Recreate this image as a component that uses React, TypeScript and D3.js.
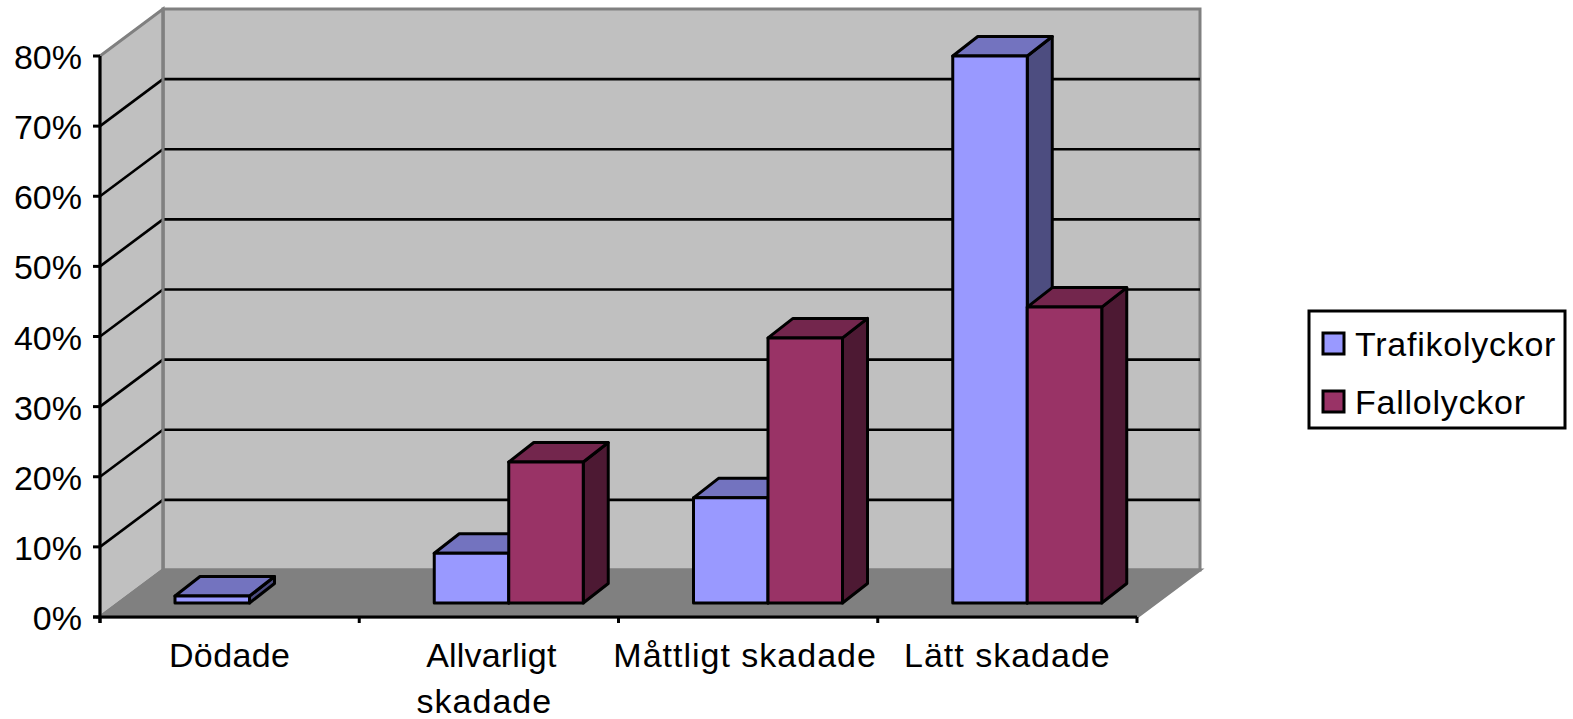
import * as d3 from "d3";

const categories = ["Dödade", "Allvarligt skadade", "Måttligt skadade", "Lätt skadade"];
const categoryLines = [["Dödade"], ["Allvarligt", "skadade"], ["Måttligt skadade"], ["Lätt skadade"]];
const seriesNames = ["Trafikolyckor", "Fallolyckor"];
const trafikolyckor = [1, 7.1, 15, 78];
const fallolyckor = [null, 20.1, 37.8, 42.2];
const seriesValues = [trafikolyckor, fallolyckor];
const yTicks = [0, 10, 20, 30, 40, 50, 60, 70, 80];

const colors = [
  { front: "#9999ff", top: "#7373bf", side: "#4d4d80" },
  { front: "#993366", top: "#73264d", side: "#4d1933" },
];

const width = 1573;
const height = 719;
const font = "'Liberation Sans', Arial, sans-serif";
const fontSize = 34;

const axisLeft = 100;
const axisRight = 1137;
const axisBottom = 617;
const axisTop = 56;
const depthX = 63;
const depthY = 47;

// bars stand a bit behind the front edge of the floor
const barLift = 14;
const barInset = 75;
const barDepthX = 25;
const barDepthY = 19.5;

// the original text is hinted wider than the font's own metrics
const defaultTracking = 1;
const legendTracking = 0.75;
const labelTracking: Record<string, number> = { "Dödade": 0.4, "Allvarligt": 0.2 };
const labelShift: Record<string, number> = { "Allvarligt": 2.5, "skadade": -4.5, "Måttligt skadade": -3 };

const xScale = d3.scaleBand<string>().domain(categories).range([axisLeft, axisRight]);
const seriesScale = d3.scaleBand<string>().domain(seriesNames).range([barInset, barInset + 149]);
const yScale = d3.scaleLinear().domain([0, 80]).range([axisBottom, axisTop]);

const polygon = d3.line<[number, number]>().curve(d3.curveLinearClosed);

export default function App() {
  const backLeft = axisLeft + depthX;
  const backRight = axisRight + depthX;
  const backBottom = axisBottom - depthY;
  const backTop = axisTop - depthY;
  const xTicks = [...categories.map((c) => xScale(c) ?? 0), axisRight];

  return (
    <svg
      width={width}
      height={height}
      viewBox={`0 0 ${width} ${height}`}
      style={{ position: "absolute", left: 0, top: 0, display: "block", background: "#fff" }}
    >
      {/* walls */}
      <rect x={backLeft} y={backTop} width={backRight - backLeft} height={backBottom - backTop} fill="#c0c0c0" stroke="#808080" strokeWidth={3} />
      <path
        d={polygon([[axisLeft, axisBottom], [axisLeft, axisTop], [backLeft, backTop], [backLeft, backBottom]]) ?? ""}
        fill="#c0c0c0"
        stroke="#808080"
        strokeWidth={3}
      />
      <path
        d={polygon([[axisLeft, axisBottom], [axisRight, axisBottom], [backRight, backBottom], [backLeft, backBottom]]) ?? ""}
        fill="#808080"
        stroke="#808080"
        strokeWidth={3}
      />

      {/* gridlines */}
      {yTicks.filter((t) => t > 0 && t < 80).map((t) => (
        <g key={t} stroke="#000" strokeWidth={2.6} fill="none">
          <line x1={axisLeft} y1={yScale(t)} x2={backLeft} y2={yScale(t) - depthY} />
          <line x1={backLeft} y1={yScale(t) - depthY} x2={backRight} y2={yScale(t) - depthY} />
        </g>
      ))}
      <line x1={backLeft} y1={backTop} x2={backLeft} y2={backBottom} stroke="#808080" strokeWidth={3} />

      {/* bars */}
      {categories.map((cat, ci) =>
        seriesNames.map((name, si) => {
          const value = seriesValues[si][ci];
          if (value == null) return null;
          const x0 = (xScale(cat) ?? 0) + (seriesScale(name) ?? 0);
          const x1 = x0 + seriesScale.bandwidth();
          const y0 = yScale(0) - barLift;
          const y1 = yScale(value) - barLift;
          const c = colors[si];
          return (
            <g key={`${cat}-${name}`} stroke="#000" strokeWidth={3} strokeLinejoin="round">
              <path
                d={polygon([[x1, y0], [x1, y1], [x1 + barDepthX, y1 - barDepthY], [x1 + barDepthX, y0 - barDepthY]]) ?? ""}
                fill={c.side}
              />
              <path
                d={polygon([[x0, y1], [x1, y1], [x1 + barDepthX, y1 - barDepthY], [x0 + barDepthX, y1 - barDepthY]]) ?? ""}
                fill={c.top}
              />
              <rect x={x0} y={y1} width={x1 - x0} height={y0 - y1} fill={c.front} />
            </g>
          );
        }),
      )}

      {/* axes */}
      <g stroke="#000" strokeWidth={3}>
        <line x1={axisLeft} y1={axisTop} x2={axisLeft} y2={axisBottom + 6} />
        <line x1={axisLeft - 7} y1={axisBottom} x2={axisRight} y2={axisBottom} />
        {yTicks.map((t) => (
          <line key={t} x1={axisLeft - 7} y1={yScale(t)} x2={axisLeft} y2={yScale(t)} />
        ))}
        {xTicks.map((x) => (
          <line key={x} x1={x} y1={axisBottom} x2={x} y2={axisBottom + 6} />
        ))}
      </g>

      <g fontFamily={font} fontSize={fontSize} fill="#000">
        {yTicks.map((t) => (
          <text key={t} x={82} y={yScale(t) + 13} textAnchor="end">{`${t}%`}</text>
        ))}
        {categories.map((cat, ci) =>
          categoryLines[ci].map((line, li) => (
            <text
              key={line}
              x={(xScale(cat) ?? 0) + xScale.bandwidth() / 2 + (labelShift[line] ?? 0)}
              y={667 + li * 46}
              textAnchor="middle"
              letterSpacing={labelTracking[line] ?? defaultTracking}
            >
              {line}
            </text>
          )),
        )}
      </g>

      {/* legend */}
      <rect x={1309} y={311} width={256} height={117} fill="#fff" stroke="#000" strokeWidth={3} />
      {seriesNames.map((name, si) => (
        <g key={name}>
          <rect x={1323} y={333 + si * 58} width={21} height={21} fill={colors[si].front} stroke="#000" strokeWidth={3} />
          <text x={1355} y={356 + si * 57.5} fontFamily={font} fontSize={fontSize} letterSpacing={legendTracking} fill="#000">{name}</text>
        </g>
      ))}
    </svg>
  );
}
